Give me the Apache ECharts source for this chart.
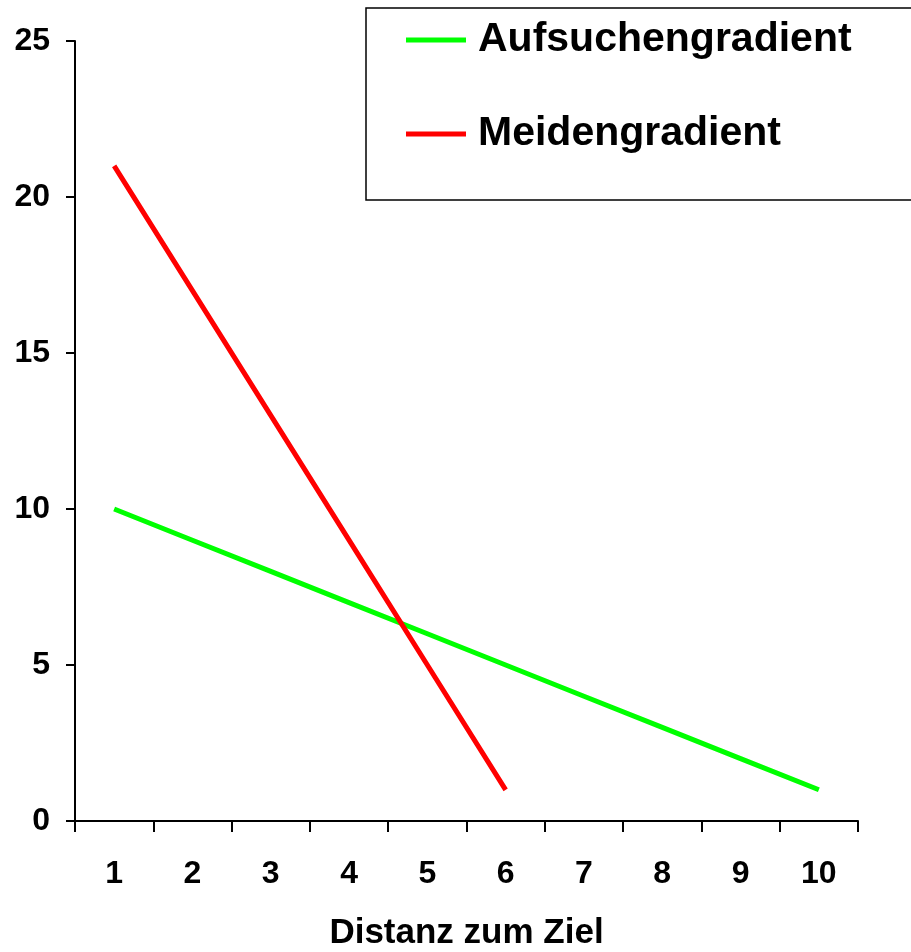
<!DOCTYPE html>
<html>
<head>
<meta charset="utf-8">
<script src="https://cdn.jsdelivr.net/npm/echarts@6/dist/echarts.min.js"></script>
<style>
html,body{margin:0;padding:0;background:#fff;}
#chart{width:911px;height:952px;}
</style>
</head>
<body>
<div id="chart"></div>
<script>
const categories = ['1','2','3','4','5','6','7','8','9','10'];
const aufsuchen = [10, 9, 8, 7, 6, 5, 4, 3, 2, 1];
const meiden = [21, 17, 13, 9, 5, 1, null, null, null, null];
const seriesNames = ['Aufsuchengradient', 'Meidengradient'];
const xAxisName = 'Distanz zum Ziel';

const FONT = "'Liberation Sans', Arial, sans-serif";
const chart = echarts.init(document.getElementById('chart'));
chart.setOption({
  animation: false,
  backgroundColor: '#fff',
  grid: {left: 75, right: 53, top: 41, bottom: 131, containLabel: false, outerBoundsMode: 'none'},
  graphic: [{
    type: 'rect',
    shape: {x: 366, y: 8, width: 600, height: 192},
    style: {fill: 'none', stroke: '#000', lineWidth: 1.5},
    z: 0
  }],
  legend: {
    orient: 'vertical',
    left: 406,
    top: 13,
    padding: 0,
    itemGap: 40,
    itemWidth: 60,
    itemHeight: 5,
    icon: 'rect',
    textStyle: {fontFamily: FONT, fontWeight: 'bold', fontSize: 41, color: '#000', lineHeight: 46, padding: [8, 0, 0, 7]},
    data: seriesNames
  },
  xAxis: {
    type: 'category',
    data: categories,
    boundaryGap: true,
    name: xAxisName,
    nameLocation: 'middle',
    nameGap: 95,
    nameTextStyle: {fontFamily: FONT, fontWeight: 'bold', fontSize: 35, color: '#000'},
    axisLine: {lineStyle: {color: '#000', width: 2}},
    axisTick: {show: true, length: 11, alignWithLabel: false, lineStyle: {color: '#000', width: 2}},
    axisLabel: {margin: 37, fontFamily: FONT, fontWeight: 'bold', fontSize: 32, color: '#000', interval: 0},
    splitLine: {show: false}
  },
  yAxis: {
    type: 'value',
    min: 0,
    max: 25,
    interval: 5,
    axisLine: {show: true, lineStyle: {color: '#000', width: 2}},
    axisTick: {show: true, length: 9, lineStyle: {color: '#000', width: 2}},
    axisLabel: {margin: 25, fontFamily: FONT, fontWeight: 'bold', fontSize: 32, color: '#000'},
    splitLine: {show: false}
  },
  series: [
    {
      name: seriesNames[0], type: 'line', data: aufsuchen, symbol: 'none',
      itemStyle: {color: '#00ff00'}, lineStyle: {color: '#00ff00', width: 5}, z: 2
    },
    {
      name: seriesNames[1], type: 'line', data: meiden, symbol: 'none',
      itemStyle: {color: '#ff0000'}, lineStyle: {color: '#ff0000', width: 5}, z: 3
    }
  ]
});
</script>
</body>
</html>
